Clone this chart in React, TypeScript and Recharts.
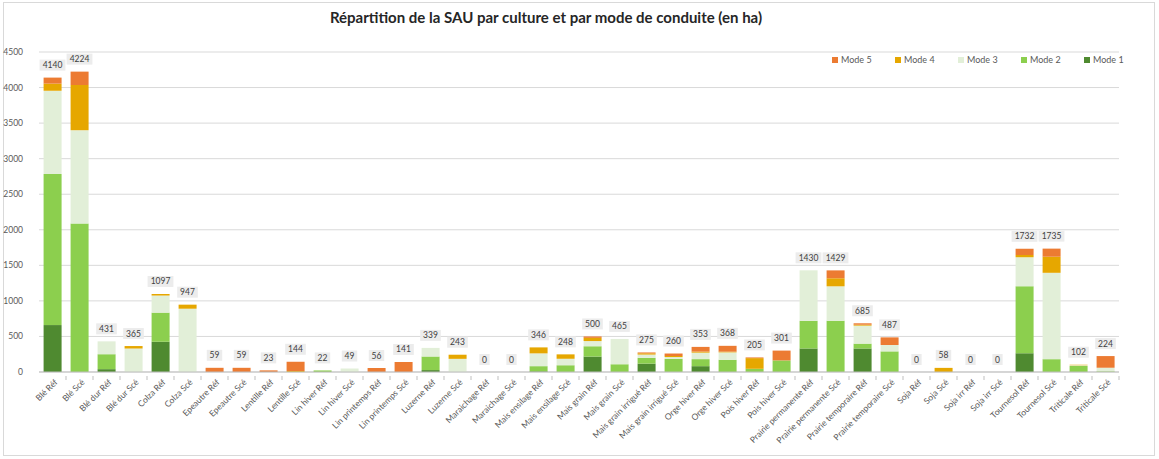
import { Bar, ComposedChart, CartesianGrid, LabelList, Legend, Line, XAxis, YAxis } from "recharts";

const categories = [
    "Blé Réf", "Blé Scé", "Blé dur Réf", "Blé dur Scé", "Colza Réf", "Colza Scé",
    "Epeautre Réf", "Epeautre Scé", "Lentille Réf", "Lentille Scé", "Lin hiver Réf", "Lin hiver Scé",
    "Lin  printemps Réf", "Lin  printemps Scé", "Luzerne Réf", "Luzerne Scé", "Maraichage Réf", "Maraichage Scé",
    "Mais ensilage Réf", "Mais ensilage Scé", "Mais grain Réf", "Mais grain Scé",
    "Mais grain irrigué Réf", "Mais grain irrigué Scé", "Orge hiver Réf", "Orge hiver Scé",
    "Pois hiver Réf", "Pois hiver Scé", "Prairie permanente Réf", "Prairie permanente Scé",
    "Prairie temporaire Réf", "Prairie temporaire Scé", "Soja Réf", "Soja Scé", "Soja irr Réf", "Soja irr Scé",
    "Tournesol Réf", "Tournesol Scé", "Triticale Réf", "Triticale Scé",
];

const mode1 = [660, 0, 40, 0, 425, 0, 0, 0, 0, 0, 0, 0, 0, 0, 27, 0, 0, 0, 10, 0, 217, 0, 118, 0, 82, 0, 0, 0, 331, 0, 331, 0, 0, 0, 0, 0, 263, 0, 0, 0];
const mode2 = [2126, 2090, 210, 0, 410, 0, 0, 0, 0, 0, 22, 0, 0, 0, 191, 0, 0, 0, 72, 95, 145, 109, 81, 185, 99, 172, 45, 163, 389, 720, 68, 290, 0, 0, 0, 0, 942, 181, 85, 10];
const mode3 = [1169, 1310, 181, 330, 240, 890, 0, 0, 0, 0, 0, 49, 0, 0, 121, 185, 0, 0, 180, 91, 73, 356, 46, 25, 91, 104, 0, 0, 710, 485, 253, 90, 0, 0, 0, 0, 407, 1214, 10, 50];
const mode4 = [100, 636, 0, 35, 22, 57, 0, 0, 0, 14, 0, 0, 0, 0, 0, 58, 0, 0, 84, 62, 45, 0, 18, 15, 15, 10, 150, 0, 0, 113, 13, 0, 0, 58, 0, 0, 32, 226, 7, 0];
const mode5 = [85, 188, 0, 0, 0, 0, 59, 59, 23, 130, 0, 0, 56, 141, 0, 0, 0, 0, 0, 0, 20, 0, 12, 35, 66, 82, 10, 138, 0, 111, 20, 107, 0, 0, 0, 0, 88, 114, 0, 164];
const totals = [4140, 4224, 431, 365, 1097, 947, 59, 59, 23, 144, 22, 49, 56, 141, 339, 243, 0, 0, 346, 248, 500, 465, 275, 260, 353, 368, 205, 301, 1430, 1429, 685, 487, 0, 58, 0, 0, 1732, 1735, 102, 224];

const yTicks = [0, 500, 1000, 1500, 2000, 2500, 3000, 3500, 4000, 4500];

const modes = [
    { key: "mode1", name: "Mode 1", color: "#4f8a30" },
    { key: "mode2", name: "Mode 2", color: "#8ccf4e" },
    { key: "mode3", name: "Mode 3", color: "#e2efd8" },
    { key: "mode4", name: "Mode 4", color: "#e6a700" },
    { key: "mode5", name: "Mode 5", color: "#ec7b32" },
];

const data = categories.map((name, i) => ({
    name,
    mode1: mode1[i],
    mode2: mode2[i],
    mode3: mode3[i],
    mode4: mode4[i],
    mode5: mode5[i],
    total: totals[i],
}));

const FONT = "Lato, 'Liberation Sans', sans-serif";

const XTick = (props: any) => {
    const { x, y, payload } = props;
    return (
        <g transform={`translate(${x},${y})`}>
            <line x1={13.5} y1={-4} x2={13.5} y2={0} stroke="#bfbfbf" />
            <text
                x={2}
                y={6}
                textAnchor="end"
                fontSize={8.5}
                fill="#595959"
                fontFamily={FONT}
                transform="rotate(-45)"
            >
                {payload.value}
            </text>
        </g>
    );
};

// labels of the totals, drawn with an invisible line so that zero bars get one too
const TotalLabel = (props: any) => {
    const { x, y, value } = props;
    const w = String(value).length * 5.2 + 5;
    return (
        <g>
            <rect x={x - w / 2} y={y - 18} width={w} height={11} fill="#ececec" />
            <text x={x} y={y - 9.5} textAnchor="middle" fontSize={8.5} fill="#404040" fontFamily={FONT}>
                {value}
            </text>
        </g>
    );
};

const LegendContent = () => (
    <div style={{ display: "flex", fontFamily: FONT, fontSize: 9, color: "#595959" }}>
        {[...modes].reverse().map((m) => (
            <div key={m.key} style={{ display: "flex", alignItems: "center", width: 63 }}>
                <span style={{ width: 6, height: 6, background: m.color, marginRight: 3, display: "inline-block" }} />
                {m.name}
            </div>
        ))}
    </div>
);

const App = () => {
    return (
        <div style={{ position: "absolute", left: 0, top: 0, width: 1159, height: 459, background: "#fff" }}>
            <div
                style={{
                    position: "absolute",
                    left: 3,
                    top: 2,
                    width: 1152,
                    height: 454,
                    border: "1px solid #d9d9d9",
                    boxSizing: "border-box",
                }}
            />
            <div
                style={{
                    position: "absolute",
                    left: 0,
                    top: 8,
                    width: 1092,
                    textAlign: "center",
                    fontFamily: FONT,
                    fontWeight: 700,
                    fontSize: 15,
                    color: "#262626",
                }}
            >
                Répartition de la SAU par culture et par mode de conduite (en ha)
            </div>
            <ComposedChart
                width={1159}
                height={459}
                data={data}
                margin={{ top: 41, right: 40, left: 0, bottom: 0 }}
                barCategoryGap="17%"
                style={{ position: "absolute", left: 0, top: 0 }}
            >
                <CartesianGrid vertical={false} stroke="#d9d9d9" />
                <XAxis
                    dataKey="name"
                    interval={0}
                    height={87}
                    tick={<XTick />}
                    tickLine={false}
                    axisLine={{ stroke: "#bfbfbf" }}
                />
                <YAxis
                    width={39}
                    domain={[0, 4500]}
                    ticks={yTicks}
                    axisLine={false}
                    tickLine={false}
                    tickMargin={10}
                    tick={{ fontSize: 8.5, fill: "#595959", fontFamily: FONT }}
                />
                <Legend
                    verticalAlign="top"
                    content={<LegendContent />}
                    wrapperStyle={{ position: "absolute", top: 54, left: 832, width: 330 }}
                />
                {modes.map((m) => (
                    <Bar key={m.key} dataKey={m.key} name={m.name} stackId="a" fill={m.color} isAnimationActive={false} />
                ))}
                <Line
                    dataKey="total"
                    stroke="none"
                    dot={false}
                    activeDot={false}
                    legendType="none"
                    isAnimationActive={false}
                >
                    <LabelList dataKey="total" content={<TotalLabel />} />
                </Line>
            </ComposedChart>
        </div>
    );
};

export default App;
